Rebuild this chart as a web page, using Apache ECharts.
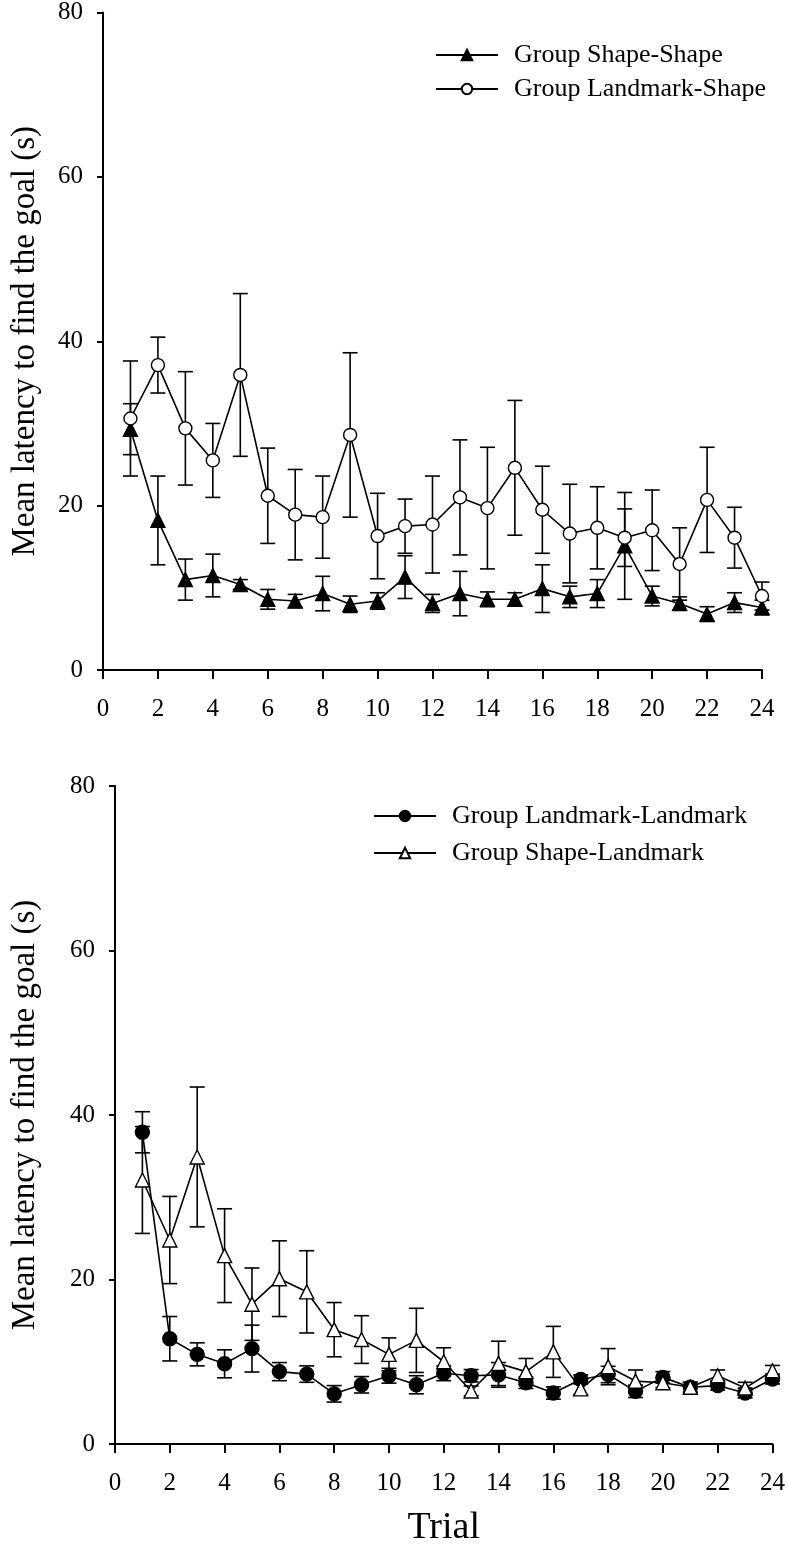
<!DOCTYPE html>
<html>
<head>
<meta charset="utf-8">
<script src="https://cdn.jsdelivr.net/npm/echarts@6/dist/echarts.min.js"></script>
<style>
html,body{margin:0;padding:0;background:#fff;}
#chart{width:788px;height:1554px;}
</style>
</head>
<body>
<div id="chart"></div>
<script>
// ---- data ----
var trials = [1,2,3,4,5,6,7,8,9,10,11,12,13,14,15,16,17,18,19,20,21,22,23,24];
var xTicks = [0,2,4,6,8,10,12,14,16,18,20,22,24];
var yTicks = [0,20,40,60,80];

// Top panel
var shapeShapeMean = [29.3,18.2,11.0,11.5,10.4,8.6,8.4,9.3,8.0,8.4,11.3,8.1,9.3,8.6,8.6,9.9,8.9,9.3,15.1,9.0,8.1,6.8,8.2,7.6];
var shapeShapeErr  = [3.1,5.4,2.5,2.6,0.6,1.2,0.8,2.1,1.0,1.0,2.6,1.1,2.7,0.9,0.8,2.9,1.3,1.7,6.5,1.2,0.8,0.9,1.2,0.9];
var landmarkShapeMean = [30.6,37.1,29.4,25.5,35.9,21.2,18.9,18.6,28.6,16.3,17.5,17.7,21.0,19.7,24.6,19.5,16.6,17.3,16.1,17.0,12.9,20.7,16.1,9.0];
var landmarkShapeErr  = [7.0,3.4,6.9,4.5,9.9,5.8,5.5,5.0,10.0,5.2,3.3,5.9,7.0,7.4,8.2,5.3,6.0,5.0,3.5,4.9,4.4,6.4,3.7,1.7];

// Bottom panel
var landmarkLandmarkMean = [37.9,12.8,10.9,9.75,11.6,8.8,8.5,6.1,7.2,8.3,7.2,8.6,8.3,8.4,7.45,6.2,7.85,8.45,6.4,8.1,6.9,7.1,6.2,7.9];
var landmarkLandmarkErr  = [2.5,2.7,1.4,1.7,2.85,1.1,1.0,1.0,1.0,0.9,1.1,0.9,0.75,1.5,0.7,0.75,0.55,1.0,0.75,0.7,0.6,0.55,0.6,0.6];
var shapeLandmarkMean = [32.1,24.8,34.9,22.9,17.0,20.1,18.5,13.9,12.7,10.9,12.6,10.0,6.45,9.8,8.8,11.2,6.7,9.4,7.65,7.45,6.9,8.3,6.8,8.9];
var shapeLandmarkErr  = [6.5,5.3,8.5,5.7,4.4,4.6,5.0,3.3,2.9,2.0,3.9,1.7,0.6,2.7,1.6,3.1,0.7,2.2,1.35,0.6,0.6,0.7,0.7,0.65];

var seriesNames = ['Group Shape-Shape','Group Landmark-Shape','Group Landmark-Landmark','Group Shape-Landmark'];
var yTitle = 'Mean latency to find the goal (s)';
var xTitle = 'Trial';

// ---- chart ----
var FONT = '"Liberation Serif","Times New Roman",serif';
var chart = echarts.init(document.getElementById('chart'), null, {renderer:'canvas'});

function pts(mean){ return trials.map(function(t,i){ return [t, mean[i]]; }); }
function errData(mean, err){ return trials.map(function(t,i){ return [t, mean[i], err[i]]; }); }

function errSeries(mean, err, idx){
  return {
    type:'custom', xAxisIndex:idx, yAxisIndex:idx, z:1, silent:true,
    data: errData(mean, err),
    encode:{x:0, y:1},
    renderItem: function(params, api){
      var x = api.value(0), m = api.value(1), e = api.value(2);
      var top = api.coord([x, m+e]);
      var bot = api.coord([x, m-e]);
      var w = 7.5;
      var st = {stroke:'#000', lineWidth:1.6};
      return {type:'group', children:[
        {type:'line', shape:{x1:top[0],y1:top[1],x2:bot[0],y2:bot[1]}, style:st},
        {type:'line', shape:{x1:top[0]-w,y1:top[1],x2:top[0]+w,y2:top[1]}, style:st},
        {type:'line', shape:{x1:bot[0]-w,y1:bot[1],x2:bot[0]+w,y2:bot[1]}, style:st}
      ]};
    }
  };
}

function lineSeries(name, mean, idx, symbol, fill, size, z){
  return {
    name:name, type:'line', xAxisIndex:idx, yAxisIndex:idx, z:z,
    data: pts(mean), symbol:symbol, symbolSize:size, showAllSymbol:true,
    lineStyle:{color:'#000', width:1.6},
    itemStyle:{color:fill, borderColor:'#000', borderWidth:1.4},
    emphasis:{disabled:true}
  };
}

function xAx(idx, withName){
  var o = {
    type:'value', gridIndex:idx, min:xTicks[0], max:xTicks[xTicks.length-1], interval:2,
    axisLine:{onZero:false, lineStyle:{color:'#000', width:2}},
    axisTick:{length:9, lineStyle:{color:'#000', width:2}},
    axisLabel:{fontFamily:FONT, fontSize:25, color:'#000', margin:27},
    splitLine:{show:false}
  };
  if(withName){
    o.name = xTitle; o.nameLocation='middle'; o.nameGap=65;
    o.nameTextStyle = {fontFamily:FONT, fontSize:38, color:'#000'};
  }
  return o;
}
function yAx(idx, gap){
  return {
    type:'value', gridIndex:idx, min:yTicks[0], max:yTicks[yTicks.length-1], interval:20,
    axisLine:{show:true, onZero:false, lineStyle:{color:'#000', width:2}},
    axisTick:{show:true, length:6, lineStyle:{color:'#000', width:2}},
    axisLabel:{fontFamily:FONT, fontSize:25, color:'#000', margin:20},
    splitLine:{show:false},
    name:yTitle, nameLocation:'middle', nameGap:gap,
    nameTextStyle:{fontFamily:FONT, fontSize:33, color:'#000'}
  };
}

var legendText = {fontFamily:FONT, fontSize:26, color:'#000', padding:[0,0,0,11]};

chart.setOption({
  animation:false,
  backgroundColor:'#fff',
  grid:[
    {left:103, top:11, width:659, height:659},
    {left:115, top:786, width:659, height:658}
  ],
  xAxis:[xAx(0,false), xAx(1,true)],
  yAxis:[yAx(0,61), yAx(1,73)],
  legend:[
    {orient:'vertical', left:435, top:42, padding:0, itemWidth:62, itemHeight:13, itemGap:8,
     data:[seriesNames[0], seriesNames[1]], textStyle:legendText, selectedMode:false},
    {orient:'vertical', left:373, top:803, padding:0, itemWidth:62, itemHeight:13, itemGap:11,
     data:[seriesNames[2], seriesNames[3]], textStyle:legendText, selectedMode:false}
  ],
  series:[
    errSeries(shapeShapeMean, shapeShapeErr, 0),
    errSeries(landmarkShapeMean, landmarkShapeErr, 0),
    lineSeries(seriesNames[0], shapeShapeMean, 0, 'triangle', '#000', 14, 3),
    lineSeries(seriesNames[1], landmarkShapeMean, 0, 'circle', '#fff', 13, 4),
    errSeries(landmarkLandmarkMean, landmarkLandmarkErr, 1),
    errSeries(shapeLandmarkMean, shapeLandmarkErr, 1),
    lineSeries(seriesNames[2], landmarkLandmarkMean, 1, 'circle', '#000', 14, 3),
    lineSeries(seriesNames[3], shapeLandmarkMean, 1, 'triangle', '#fff', 14, 4)
  ]
});
</script>
</body>
</html>
